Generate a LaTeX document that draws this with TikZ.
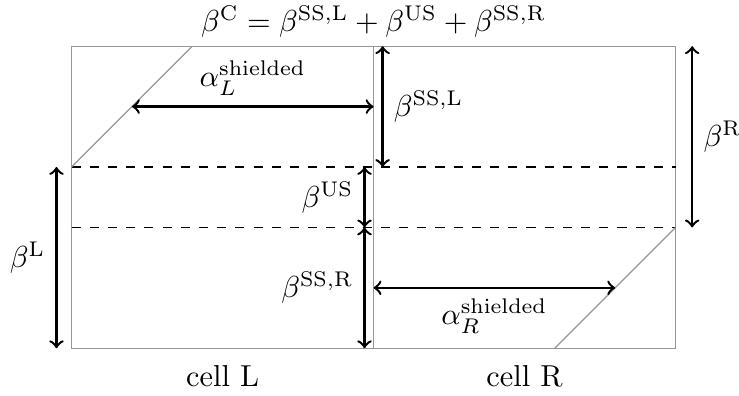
\documentclass[tikz,border=0pt]{standalone}
\usepackage{tikz}
\usetikzlibrary{positioning}
\definecolor{boxgray}{RGB}{150,150,150}

\begin{document}
\begin{tikzpicture}[x=0.35cm, y=0.35cm,
  cellbox/.style={draw=boxgray, thin, minimum width=3.5cm, minimum height=3.5cm, inner sep=0pt},
  measure/.style={<->, thick},
  level/.style={dashed, thin}]
  \useasboundingbox (-2.37,-1.58) rectangle (22.1,11.53);
  % the two cells
  \node[cellbox] (cellL) at (5,5) {};
  \node[cellbox] (cellR) at (15,5) {};
  \node[below=2pt of cellL] (labL) {cell L};
  \node[below=2pt of cellR] (labR) {cell R};
  \node (sum) at (10,10.82) {$\beta^{\mathrm{C}} = \beta^{\mathrm{SS,L}} + \beta^{\mathrm{US}} + \beta^{\mathrm{SS,R}}$};
  % levels and shielded edges
  \coordinate (hiL) at (0,6);  \coordinate (hiR) at (20,6);
  \coordinate (loL) at (0,4);  \coordinate (loR) at (20,4);
  \coordinate (topD) at (4,10); \coordinate (botD) at (16,0);
  \draw[level] (hiL) -- (hiR);
  \draw[level] (loL) -- (loR);
  \draw[boxgray, thin] (hiL) -- (topD);
  \draw[boxgray, thin] (botD) -- (loR);
  % shielded widths
  \coordinate (aL1) at (2,8);  \coordinate (aL2) at (10,8);
  \coordinate (aR1) at (10,2); \coordinate (aR2) at (18,2);
  \draw[measure] (aL1) -- (aL2) node[midway, above] {$\alpha_L^{\mathrm{shielded}}$};
  \draw[measure] (aR1) -- (aR2) node[midway, below] {$\alpha_R^{\mathrm{shielded}}$};
  % heights
  \coordinate (sl1) at (10.3,10); \coordinate (sl2) at (10.3,6);
  \coordinate (us1) at (9.7,6);   \coordinate (us2) at (9.7,4);
  \coordinate (sr2) at (9.7,0);
  \coordinate (bl1) at (-0.5,6);  \coordinate (bl2) at (-0.5,0);
  \coordinate (br1) at (20.55,10); \coordinate (br2) at (20.55,4);
  \draw[measure] (sl1) -- (sl2) node[midway, right] {$\beta^{\mathrm{SS,L}}$};
  \draw[measure] (us1) -- (us2) node[midway, left] {$\beta^{\mathrm{US}}$};
  \draw[measure] (us2) -- (sr2) node[midway, left] {$\beta^{\mathrm{SS,R}}$};
  \draw[measure] (bl1) -- (bl2) node[midway, left] {$\beta^{\mathrm{L}}$};
  \draw[measure] (br1) -- (br2) node[midway, right] {$\beta^{\mathrm{R}}$};
\end{tikzpicture}
\end{document}
